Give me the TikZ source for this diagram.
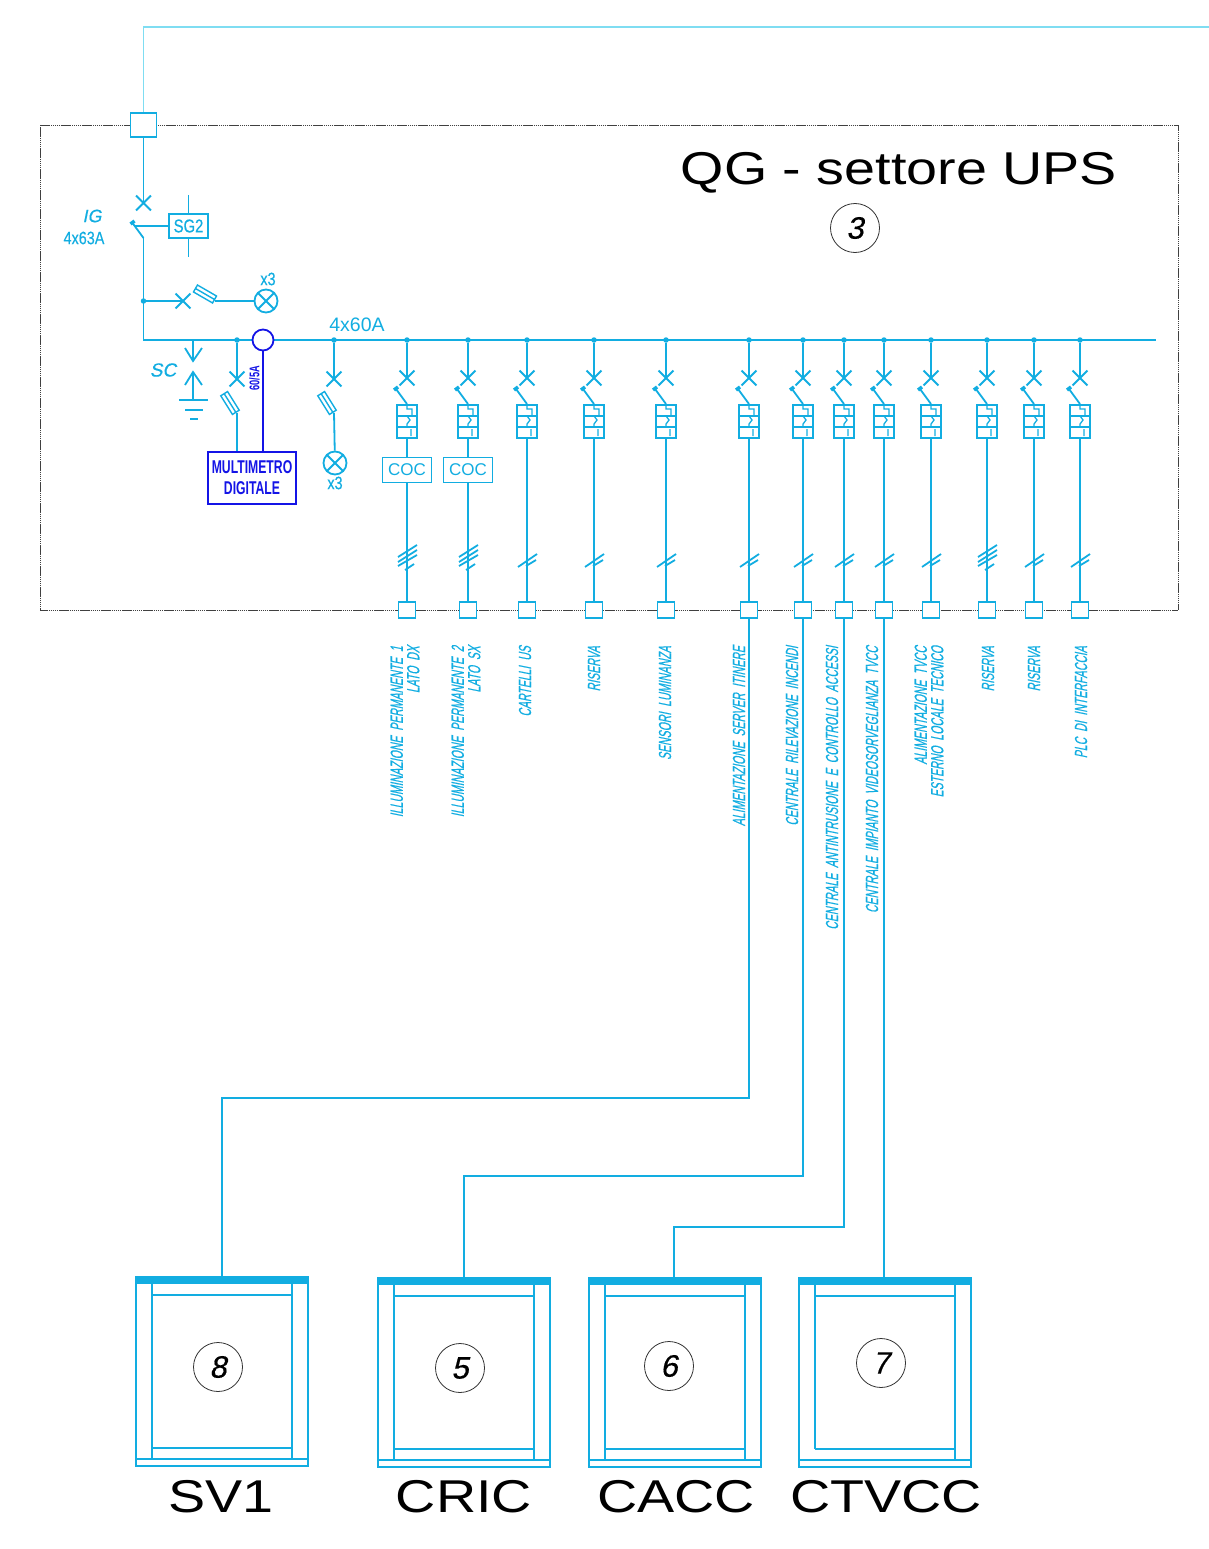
\documentclass[tikz,border=0pt]{standalone}
\usepackage{fontspec}
\usepackage{tikz}
\usetikzlibrary{shapes.misc}
\setmainfont{Liberation Sans}
\newfontfamily\bigfont[FakeStretch=1.21]{Liberation Sans}
\newfontfamily\cadfont{Liberation Sans}
\newfontfamily\midfont[FakeStretch=0.8,FakeBold=0.4]{Liberation Sans}
\newfontfamily\narrowfont[FakeStretch=0.66]{Liberation Sans}
\newfontfamily\slantfont[FakeStretch=0.6,FakeSlant=0.2,FakeBold=0.5]{Liberation Sans}
\newfontfamily\numfont[FakeSlant=0.2,FakeBold=0.4]{Liberation Sans}
\definecolor{cad}{HTML}{12ADE1}
\definecolor{cadlight}{HTML}{7FDDF2}
\definecolor{cadblue}{HTML}{1414E6}
\tikzset{
  wire/.style={draw=cad,line width=1.8pt},
  dot/.style={circle,fill=cad,inner sep=0,minimum size=5.5pt},
  term/.style={rectangle,draw=cad,line width=1.8pt,fill=white,inner sep=0,minimum width=17pt,minimum height=16pt},
  brk/.style={cross out,draw=cad,line width=1.8pt,inner sep=0,minimum size=13pt},
  lamp/.style={circle,draw=cad,line width=1.8pt,inner sep=0,minimum size=23pt,
    path picture={\draw[cad,line width=1.8pt] (path picture bounding box.north west) -- (path picture bounding box.south east)
      (path picture bounding box.north east) -- (path picture bounding box.south west);}},
  cocbox/.style={rectangle,draw=cad,line width=1.8pt,fill=white,inner sep=0,minimum width=49pt,minimum height=25pt,text=cad,font=\cadfont\fontsize{17}{19}\selectfont},
  lab/.style={rotate=90,anchor=east,inner sep=0,align=right,text=cad,font=\slantfont\fontsize{17.5}{16.5}\selectfont},
  cadtxt/.style={inner sep=0,text=cad,font=\midfont\fontsize{18}{20}\selectfont},
  sctxt/.style={inner sep=0,text=cad,font=\numfont\fontsize{18}{20}\selectfont},
  numcirc/.style={circle,draw=black!80,line width=.8pt,inner sep=0,minimum size=49pt,font=\numfont\fontsize{31}{33}\selectfont},
  bigtxt/.style={inner sep=0,text=black,font=\bigfont\fontsize{46}{50}\selectfont},
  panel/.style={rectangle,draw=cad,line width=1.6pt,inner sep=0,minimum width=172pt,minimum height=189pt},
  blade/.pic={\draw[cad,line width=1.8pt] (-11,-15) -- (0,0);
    \draw[cad,line width=3.5pt] (-13,-14) -- (-9,-17);},
  fuse/.pic={\draw[cad,line width=1.4pt] (-11,-4) rectangle (11,4) (-11,0) -- (11,0);},
}
\begin{document}
\begin{tikzpicture}[x=1pt,y=-1pt]
\useasboundingbox (0,0) rectangle (1209,1549);
% Frame
\draw[black!75,line width=.9pt,dash pattern=on 1.5pt off .6pt] (40,125) rectangle (1178,610);
\node[bigtxt] (title) at (899,173) {QG - settore UPS};
\node[numcirc] (n3) at (855,228) {3};

% Incoming line
\node[term,minimum width=26pt,minimum height=24pt] (tq) at (143.5,125) {};
\coordinate (ce) at (1209,27);
\draw[cadlight,line width=1.6pt] (tq) |- (ce);
\node[brk] (xq) at (143.5,203) {};
\draw[wire] (tq) -- (xq.center);
\pic at (143.5,238) {blade};
\node[rectangle,draw=cad,line width=1.8pt,fill=white,inner sep=0,minimum width=39pt,minimum height=24pt,text=cad,font=\midfont\fontsize{18.5}{21}\selectfont] (sg) at (188.5,226) {SG2};
\coordinate (sgt) at (188.5,195);
\coordinate (sgb) at (188.5,257);
\coordinate (bl) at (135,226);
\draw[wire] (sgt) -- (sg);
\draw[wire] (sg) -- (sgb);
\draw[wire] (bl) -- (sg);
\node[sctxt] (ig) at (92,216) {IG};
\node[cadtxt] (igv) at (84,238) {4x63A};

% Busbar
\coordinate (bs) at (143.5,238);
\coordinate (bc) at (143.5,340);
\coordinate (be) at (1156,340);
\draw[wire] (bs) -- (bc) -- (be);
\node[cadtxt,font=\cadfont\fontsize{19.5}{20}\selectfont] (busv) at (357,325) {4x60A};

% Voltage lamps
\node[dot] (d0) at (143.5,301) {};
\node[brk] (x0) at (183,301) {};
\node[lamp] (l0) at (266,301) {};
\coordinate (f0) at (215,301);
\draw[wire] (d0) -- (x0.center);
\draw[wire] (f0) -- (l0);
\pic[rotate=-30] at (205,294) {fuse};
\node[cadtxt] (l0x) at (268,279) {x3};

% SC
\coordinate (sa) at (193,340);
\coordinate (sb) at (193,361);
\coordinate (sc) at (193,372);
\coordinate (sd) at (193,400);
\draw[wire] (sa) -- (sb);
\draw[wire] (185,348) -- (sb) -- (202,348);
\draw[wire] (185,385) -- (sc) -- (202,385);
\draw[wire] (sc) -- (sd);
\draw[wire] (179,400) -- (208,400) (185,410) -- (203,410) (190,419) -- (198,419);
\node[sctxt,font=\numfont\fontsize{19}{22}\selectfont] (sclab) at (163,370) {SC};

% Multimeter
\node[rectangle,draw=cadblue,line width=1.8pt,inner sep=0,minimum width=88pt,minimum height=52pt,align=center,text=cadblue,font=\narrowfont\bfseries\fontsize{18.5}{21}\selectfont] (mm) at (252,478) {MULTIMETRO\\DIGITALE};
\node[dot] (d00) at (237,340) {};
\node[brk] (x00) at (237,379) {};
\coordinate (f00) at (237,413);
\draw[wire] (d00) -- (x00.center);
\draw[wire] (f00) -- (f00 |- mm.north);
\pic[rotate=-58] at (230,403) {fuse};
\node[circle,draw=cadblue,line width=1.8pt,fill=white,inner sep=0,minimum size=21pt] (ta) at (263,340) {};
\draw[cadblue,line width=1.8pt] (ta) -- (ta |- mm.north);
\node[rotate=90,inner sep=0,text=cadblue,font=\narrowfont\bfseries\fontsize{14}{16}\selectfont] (talab) at (254.5,378) {60/5A};

% Lamps on busbar
\node[dot] (d01) at (334,340) {};
\node[brk] (x01) at (334,379) {};
\node[lamp] (l1) at (335,463) {};
\coordinate (f01) at (334,413);
\draw[wire] (d01) -- (x01.center);
\draw[wire] (f01) -- (l1);
\pic[rotate=-58] at (327,403) {fuse};
\node[cadtxt] (l1x) at (335,483) {x3};

% Feeders
\foreach \n/\xx/\tk/\lx/\txt in {
  1/407/4/405/{ILLUMINAZIONE\ \ PERMANENTE\ \ 1\\LATO\ \ DX},
  2/468/4/466/{ILLUMINAZIONE\ \ PERMANENTE\ \ 2\\LATO\ \ SX},
  3/527/1/525/{CARTELLI\ \ US},
  4/594/1/594/{RISERVA},
  5/666/1/665/{SENSORI\ \ LUMINANZA},
  6/749/1/739/{ALIMENTAZIONE\ \ SERVER\ \ ITINERE},
  7/803/1/792/{CENTRALE\ \ RILEVAZIONE\ \ INCENDI},
  8/844/1/832/{CENTRALE\ \ ANTINTRUSIONE\ \ E\ \ CONTROLLO\ \ ACCESSI},
  9/884/1/872/{CENTRALE\ \ IMPIANTO\ \ VIDEOSORVEGLIANZA\ \ TVCC},
  10/931/1/929/{ALIMENTAZIONE\ \ TVCC\\ESTERNO\ \ LOCALE\ \ TECNICO},
  11/987/4/988/{RISERVA},
  12/1034/1/1034/{RISERVA},
  13/1080/1/1081/{PLC\ \ DI\ \ INTERFACCIA}} {
  \node[dot] (d\n) at (\xx,340) {};
  \node[brk] (x\n) at (\xx,378) {};
  \node[term] (t\n) at (\xx,610) {};
  \node[lab] (lab\n) at (\lx,646) {\txt};
  \begin{scope}[shift={(\xx,0)}]
    \coordinate (b\n) at (0,438);
    \pic at (0,404) {blade};
    \draw[cad,line width=1.8pt] (-10,405) rectangle (10,438) (-10,416) -- (10,416);
    \draw[cad,line width=2.4pt] (-10,427) -- (10,427);
    \draw[cad,line width=1.3pt] (0,405) -- (0,409) -- (5,409) -- (5,416) (0,416) -- (3,420) -- (0,424) -- (0,427) (4,429) -- (4,436);
    \ifnum\tk=4
      \draw[wire] (-9,557) -- (10,545) (-9,562) -- (10,550) (-9,566) -- (10,555) (-2,570) -- (7,564);
    \else
      \draw[wire] (-9,567) -- (10,554) (-1,566) -- (9,560);
    \fi
  \end{scope}
  \draw[wire] (d\n) -- (x\n.center);
  \draw[wire] (b\n) -- (t\n);
}
\node[cocbox] (coc1) at (407,470) {COC};
\node[cocbox] (coc2) at (468,470) {COC};

% Panels
\foreach \n/\xx/\yy/\nm/\num/\nx/\ny/\lx in {
  8/136/0/SV1/8/82/1367/221,
  5/378/1/CRIC/5/82/1368/464,
  6/589/1/CACC/6/80/1366/676,
  7/799/1/CTVCC/7/82/1363/886} {
  \begin{scope}[shift={(\xx,\yy)}]
    \node[panel] (p\n) at (86,1371.5) {};
    \fill[cad] (-1,1277) rectangle (173,1284);
    \draw[cad,line width=1.5pt] (156,1284) -- (156,1459)
      (16,1295) -- (156,1295) (16,1448) -- (156,1448) (0,1459) -- (172,1459);
    \ifnum\n=7
      \draw[cad,line width=1.5pt] (16,1284) -- (16,1448);
    \else
      \draw[cad,line width=1.5pt] (16,1284) -- (16,1459);
    \fi
    \node[numcirc] (c\n) at (\nx,\ny-\yy) {\num};
  \end{scope}
  \node[bigtxt] (nm\n) at (\lx,1497) {\nm};
}

% Cables to panels
\coordinate (k8) at (222,1098);
\coordinate (k5) at (464,1176);
\coordinate (k6) at (674,1227);
\draw[wire] (t6) |- (k8) -- (k8 |- p8.north);
\draw[wire] (t7) |- (k5) -- (k5 |- p5.north);
\draw[wire] (t8) |- (k6) -- (k6 |- p6.north);
\draw[wire] (t9) -- (t9 |- p7.north);
\end{tikzpicture}
\end{document}
